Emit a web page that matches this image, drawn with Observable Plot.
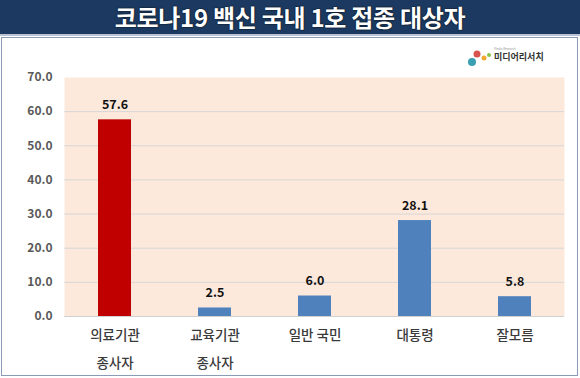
<!DOCTYPE html>
<html><head><meta charset="utf-8">
<script src="https://cdn.jsdelivr.net/npm/d3@7"></script>
<script src="https://cdn.jsdelivr.net/npm/@observablehq/plot@0.6"></script>
<style>
body{margin:0;width:580px;height:378px;overflow:hidden;background:#fff;font-family:"Noto Sans CJK KR","Noto Sans",sans-serif;}
#title{position:absolute;left:0;top:0;width:580px;height:34px;background:#1c3a61;color:#fff;font-weight:700;font-size:24px;line-height:34px;text-align:center;letter-spacing:-0.3px;text-shadow:0 0 2px #000;border-bottom:2px solid #b9c3d3;}
#panel{position:absolute;left:1px;top:37px;width:575px;height:337px;border:1px solid #8a9bb7;background:#fff;}
#chart{position:absolute;left:0;top:0;}
#logo{position:absolute;left:462px;top:8px;width:80px;height:22px;}
</style></head>
<body>
<div id="title">코로나19 백신 국내 1호 접종 대상자</div>
<div id="panel"><div id="chart"></div>
<svg id="logo" width="80" height="22">
<circle cx="8" cy="16" r="4" fill="#3a9fb0"/>
<circle cx="13" cy="8" r="3.5" fill="#d9534f"/>
<circle cx="20" cy="12" r="2.5" fill="#f0a830"/>
<circle cx="25" cy="9" r="2" fill="#8bc34a"/>
<text x="30" y="14" font-size="9" font-weight="700" fill="#333">미디어리서치</text>
<text x="30" y="4" font-size="3" fill="#999">Media Research</text>
</svg>
</div>
<script>
const categories = ["의료기관\n종사자", "교육기관\n종사자", "일반 국민", "대통령", "잘모름"];
const values = [57.6, 2.5, 6.0, 28.1, 5.8];
const barColors = ["#c00000", "#4f81bd", "#4f81bd", "#4f81bd", "#4f81bd"];
const yTicks = [0, 10, 20, 30, 40, 50, 60, 70];

const data = categories.map((c, i) => ({cat: c, value: values[i], color: barColors[i]}));

const chart = Plot.plot({
  width: 575, height: 337,
  marginLeft: 62, marginRight: 13, marginTop: 39, marginBottom: 59,
  style: {fontFamily: '"Noto Sans CJK KR","Noto Sans",sans-serif', background: "transparent"},
  x: {domain: categories, paddingInner: 0.67, paddingOuter: 0.335, label: null},
  y: {domain: [0, 70], ticks: yTicks, label: null},
  marks: [
    Plot.frame({fill: "#fde9dc", stroke: null}),
    Plot.gridY(yTicks.filter(t => t > 0 && t < 70), {stroke: "#d6d6d6", strokeOpacity: 1}),
    Plot.ruleY([0], {stroke: "#d0d0d0"}),
    Plot.barY(data, {x: "cat", y: "value", fill: "color"}),
    Plot.text(data, {x: "cat", y: "value", text: d => d.value.toFixed(1), dy: -15, fontSize: 12.5, fontWeight: 700, fill: "#111"}),
    Plot.axisY(yTicks, {tickFormat: d => d.toFixed(1), tickSize: 0, tickPadding: 12, fontSize: 12, fontWeight: 700, fill: "#595959"}),
    Plot.axisX({tickSize: 0, tickPadding: 4, fontSize: 13.5, fontWeight: 500, fill: "#3a3a3a", lineHeight: 2.05})
  ]
});
document.getElementById("chart").appendChild(chart);
</script>
</body></html>
